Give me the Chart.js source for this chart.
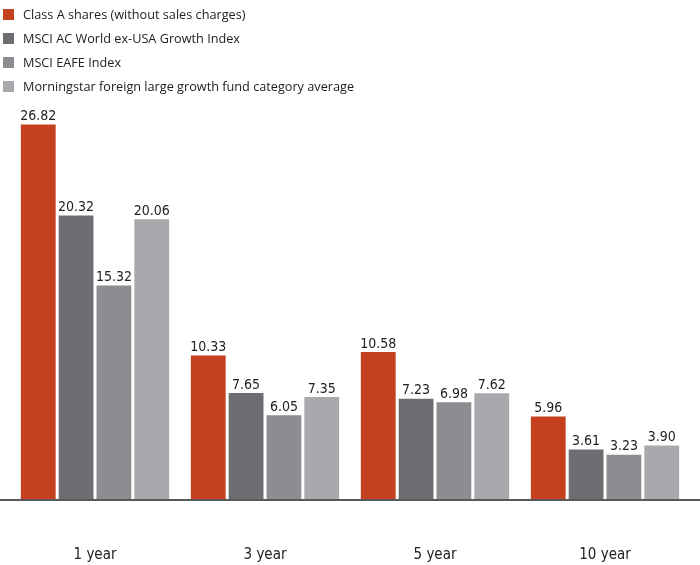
<!DOCTYPE html>
<html><head><meta charset="utf-8">
<script src="https://cdn.jsdelivr.net/npm/chart.js@4"></script>
<style>
html,body{margin:0;padding:0;background:#fff;}
#wrap{position:relative;width:700px;height:565px;}
#legend{position:absolute;left:3px;top:2px;font-family:"Open Sans",sans-serif;font-size:12.7px;color:#222;}
#legend div{height:24px;line-height:18px;display:flex;align-items:center;}
#legend span.sw{display:inline-block;width:11px;height:11px;margin-right:9px;}
</style></head>
<body><div id="wrap"><canvas id="c" width="700" height="565"></canvas><div id="legend"></div></div>
<script>
const categories = ["1 year", "3 year", "5 year", "10 year"];
const seriesNames = ["Class A shares (without sales charges)", "MSCI AC World ex-USA Growth Index", "MSCI EAFE Index", "Morningstar foreign large growth fund category average"];
const classA = [26.82, 10.33, 10.58, 5.96];
const msciACWI = [20.32, 7.65, 7.23, 3.61];
const msciEAFE = [15.32, 6.05, 6.98, 3.23];
const morningstar = [20.06, 7.35, 7.62, 3.90];
const colors = ["#C5401F", "#6D6E72", "#8C8D91", "#A8A9AC"];
const seriesData = [classA, msciACWI, msciEAFE, morningstar];

const leg = document.getElementById('legend');
seriesNames.forEach((n,i)=>{
  const d=document.createElement('div');
  d.innerHTML='<span class="sw" style="background:'+colors[i]+'"></span>'+n;
  leg.appendChild(d);
});

const condFont = '"Liberation Sans Narrow", "DejaVu Sans Condensed", sans-serif';
const valueLabels = {
  id:'valueLabels',
  afterDatasetsDraw(chart){
    const ctx=chart.ctx;
    ctx.save();
    ctx.font='14px ' + condFont;
    ctx.fillStyle='#222';
    ctx.textAlign='center';
    ctx.textBaseline='bottom';
    chart.data.datasets.forEach((ds,di)=>{
      chart.getDatasetMeta(di).data.forEach((bar,i)=>{
        ctx.fillText(ds.data[i].toFixed(2), bar.x, bar.y-1);
      });
    });
    ctx.restore();
  }
};
const baseLine = {
  id:'baseLine',
  afterDatasetsDraw(chart){
    const ctx=chart.ctx;
    const y=chart.scales.y.getPixelForValue(0);
    ctx.save();
    ctx.strokeStyle='#58595B';
    ctx.lineWidth=2;
    ctx.beginPath();ctx.moveTo(0,y);ctx.lineTo(chart.width,y);ctx.stroke();
    ctx.restore();
  }
};

new Chart(document.getElementById('c'),{
  type:'bar',
  data:{labels:categories,datasets:seriesNames.map((n,i)=>({label:n,data:seriesData[i],backgroundColor:colors[i],categoryPercentage:0.89,barPercentage:0.92}))},
  options:{
    responsive:false,animation:false,
    layout:{padding:{left:10,right:10,top:108,bottom:0}},
    plugins:{legend:{display:false},tooltip:{enabled:false}},
    scales:{
      x:{grid:{display:false,drawTicks:false},border:{display:false},
         afterFit(s){s.height=65;},
         ticks:{padding:46,color:'#222',font:{family:condFont,size:15}}},
      y:{display:false,min:0,max:28}
    }
  },
  plugins:[valueLabels,baseLine]
});
</script></body></html>
